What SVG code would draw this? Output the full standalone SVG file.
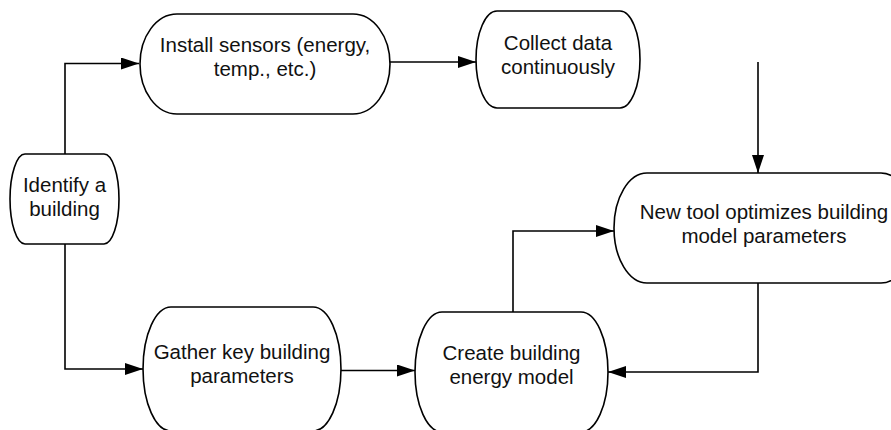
<svg xmlns="http://www.w3.org/2000/svg" width="891" height="430" viewBox="0 0 891 430">
<defs>
<marker id="arr" markerWidth="18" markerHeight="12" refX="18" refY="6" orient="auto" markerUnits="userSpaceOnUse">
<path d="M0,0 L18,6 L0,12 Z" fill="#000"/>
</marker>
<style>
.shape{fill:#fff;stroke:#000;stroke-width:1.6}
.edge{fill:none;stroke:#000;stroke-width:1.6;marker-end:url(#arr)}
.edge2{fill:none;stroke:#000;stroke-width:1.6}
text{font-family:"Liberation Sans",Arial,sans-serif;font-size:20.5px;fill:#111;text-anchor:middle}
</style>
</defs>
<rect width="891" height="430" fill="#fff"/>
<g id="connectors">
<path class="edge" d="M65,154 V63.5 H139"/>
<path class="edge" d="M65,244 V369 H143"/>
<path class="edge" d="M390,62 H476"/>
<path class="edge" d="M758,62 V173"/>
<path class="edge" d="M341,370.5 H415"/>
<path class="edge" d="M513,312 V231 H614"/>
<path class="edge" d="M758,283 V372 H608"/>
</g>
<g id="identify">
<path class="shape" d="M25,154 H104 A15,45 0 0 1 104,244 H25 A15,45 0 0 1 25,154 Z"/>
<text x="64.5" y="192">Identify a</text>
<text x="64.5" y="216">building</text>
</g>
<g id="install">
<path class="shape" d="M177,14 H353 A37,50 0 0 1 353,114 H177 A37,50 0 0 1 177,14 Z"/>
<text x="265" y="52">Install sensors (energy,</text>
<text x="265" y="76">temp., etc.)</text>
</g>
<g id="collect">
<path class="shape" d="M497,11 H620 A20,48.5 0 0 1 620,108 H497 A21,48.5 0 0 1 497,11 Z"/>
<text x="558" y="50">Collect data</text>
<text x="558" y="74">continuously</text>
</g>
<g id="newtool">
<path class="shape" d="M647,173 H881 A33,55 0 0 1 881,283 H647 A33,55 0 0 1 647,173 Z"/>
<text x="764" y="219">New tool optimizes building</text>
<text x="764" y="243">model parameters</text>
</g>
<g id="gather">
<path class="shape" d="M171,307 H313 A28,62 0 0 1 313,431 H171 A28,62 0 0 1 171,307 Z"/>
<text x="242" y="359">Gather key building</text>
<text x="242" y="383">parameters</text>
</g>
<g id="create">
<path class="shape" d="M442,312 H581 A27,60 0 0 1 581,432 H442 A27,60 0 0 1 442,312 Z"/>
<text x="511.5" y="360">Create building</text>
<text x="511.5" y="384">energy model</text>
</g>
</svg>
